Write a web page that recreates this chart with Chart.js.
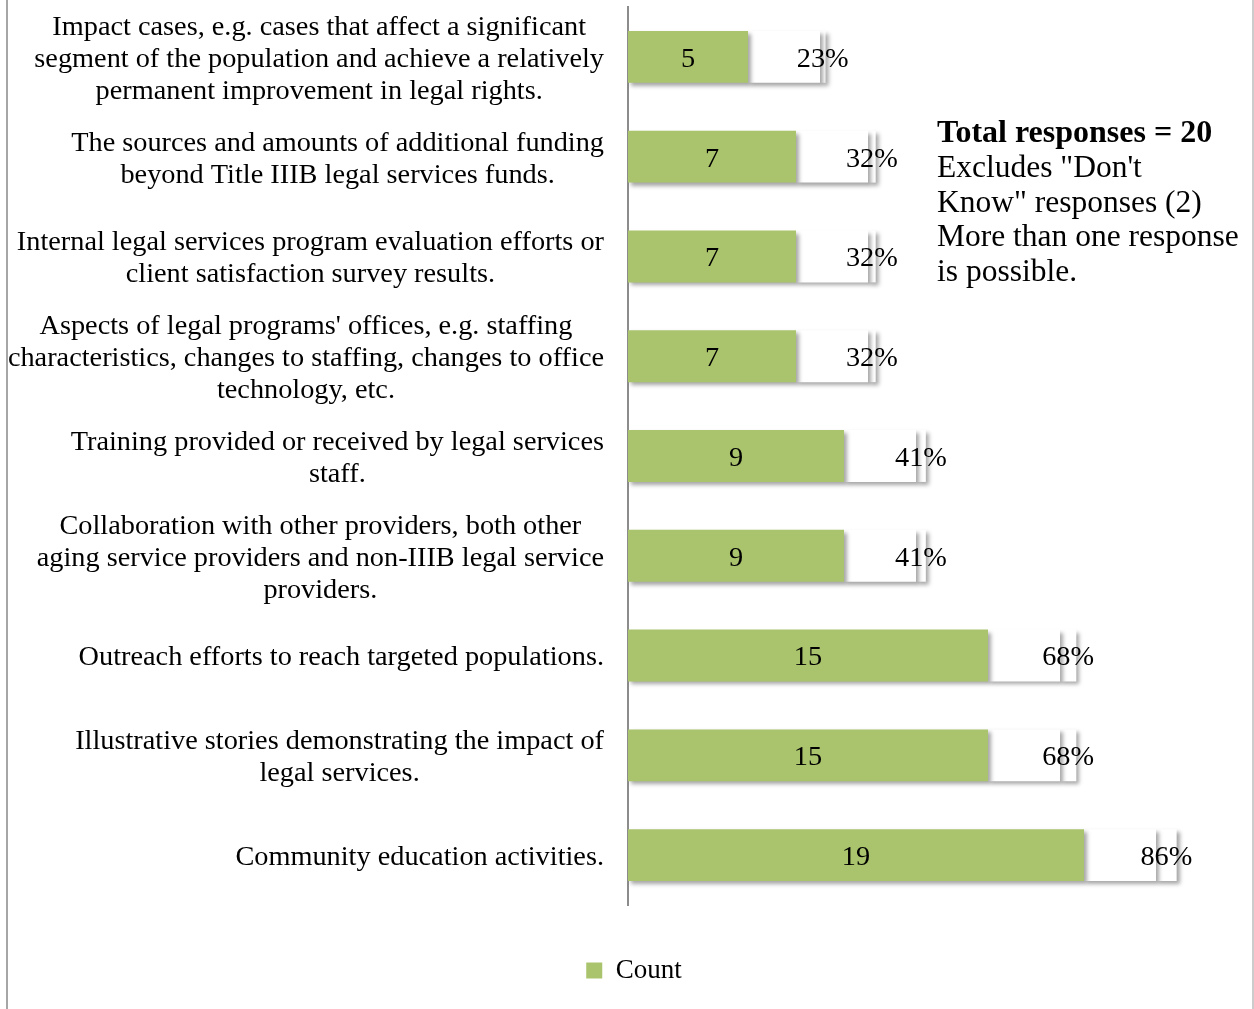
<!DOCTYPE html>
<html>
<head>
<meta charset="utf-8">
<script src="https://cdn.jsdelivr.net/npm/chart.js@4.4.1/dist/chart.umd.min.js"></script>
<style>
  html, body { margin: 0; padding: 0; background: #fff; }
  #wrap { width: 1254px; height: 1009px; position: relative; }
</style>
</head>
<body>
<div id="wrap"><canvas id="c" width="1254" height="1009"></canvas></div>
<script>
// Categories (multi-line labels)
const categories = [
  ["Impact cases, e.g. cases that affect a significant", "segment of the population and achieve a relatively", "permanent improvement in legal rights."],
  ["The sources and amounts of additional funding", "beyond Title IIIB legal services funds."],
  ["Internal legal services program evaluation efforts or", "client satisfaction survey results."],
  ["Aspects of legal programs' offices, e.g. staffing", "characteristics, changes to staffing, changes to office", "technology, etc."],
  ["Training provided or received by legal services", "staff."],
  ["Collaboration with other providers, both other", "aging service providers and non-IIIB legal service", "providers."],
  ["Outreach efforts to reach targeted populations."],
  ["Illustrative stories demonstrating the impact of", "legal services."],
  ["Community education activities."]
];

// Number of respondents per item
const counts = [5, 7, 7, 7, 9, 9, 15, 15, 19];
// White spacer between the count bar and the percentage segment
const spacer = [3, 3, 3, 3, 3, 3, 3, 3, 3];
// Share of respondents per item
const shares = [0.23, 0.32, 0.32, 0.32, 0.41, 0.41, 0.68, 0.68, 0.86];

// Side note
const noteTitle = "Total responses = 20";
const noteLines = ["Excludes \"Don't", "Know\" responses (2)", "More than one response", "is possible."];

const FONT = '"Liberation Serif", "DejaVu Serif", serif';
const LABEL_SIZE = 28.3;
const TEXT_SHIFT = 2.5; // optical nudge: serif glyphs sit high with a 'middle' baseline
const GREEN = '#A9C46C';

// Outer frame lines
const framePlugin = {
  id: 'frame',
  beforeDraw(chart) {
    const ctx = chart.ctx;
    ctx.save();
    ctx.fillStyle = '#fff';
    ctx.fillRect(0, 0, chart.width, chart.height);
    ctx.strokeStyle = '#a6a6a6';
    ctx.lineWidth = 2;
    ctx.beginPath(); ctx.moveTo(7, 0); ctx.lineTo(7, chart.height); ctx.stroke();
    ctx.strokeStyle = '#cccccc';
    ctx.beginPath(); ctx.moveTo(1253, 0); ctx.lineTo(1253, chart.height); ctx.stroke();
    ctx.restore();
  }
};

// Soft drop shadow under the bars
const shadowPlugin = {
  id: 'barShadow',
  beforeDatasetsDraw(chart) {
    const ctx = chart.ctx;
    ctx.save();
    ctx.shadowColor = 'rgba(0,0,0,0.35)';
    ctx.shadowBlur = 4;
    ctx.shadowOffsetX = 3;
    ctx.shadowOffsetY = 3;
  },
  afterDatasetsDraw(chart) {
    chart.ctx.restore();
  }
};

// Category labels: block right-aligned to the axis, lines centred within the block
const categoryLabels = {
  id: 'categoryLabels',
  afterDraw(chart) {
    const ctx = chart.ctx, y = chart.scales.y;
    ctx.save();
    ctx.font = LABEL_SIZE + 'px ' + FONT;
    ctx.fillStyle = '#000';
    ctx.textAlign = 'center';
    ctx.textBaseline = 'middle';
    const right = chart.chartArea.left - 24;
    chart.data.labels.forEach((lab, i) => {
      const lines = Array.isArray(lab) ? lab : [lab];
      const w = Math.max(...lines.map(l => ctx.measureText(l).width));
      const cx = right - w / 2;
      const cy = y.getPixelForValue(i) + TEXT_SHIFT;
      lines.forEach((l, k) => ctx.fillText(l, cx, cy + (k - (lines.length - 1) / 2) * 32));
    });
    ctx.restore();
  }
};

// Value labels inside the count bars and on the percentage segments
const valueLabels = {
  id: 'valueLabels',
  afterDraw(chart) {
    const ctx = chart.ctx;
    ctx.save();
    ctx.font = LABEL_SIZE + 'px ' + FONT;
    ctx.fillStyle = '#000';
    ctx.textAlign = 'center';
    ctx.textBaseline = 'middle';
    chart.getDatasetMeta(0).data.forEach((bar, i) => {
      ctx.fillText(String(counts[i]), (bar.x + bar.base) / 2, bar.y + TEXT_SHIFT);
    });
    chart.getDatasetMeta(2).data.forEach((bar, i) => {
      ctx.fillText(Math.round(shares[i] * 100) + '%', (bar.x + bar.base) / 2, bar.y + TEXT_SHIFT);
    });
    ctx.restore();
  }
};

// Side note text
const notePlugin = {
  id: 'note',
  afterDraw(chart) {
    const ctx = chart.ctx;
    ctx.save();
    ctx.fillStyle = '#000';
    ctx.textAlign = 'left';
    ctx.textBaseline = 'middle';
    ctx.font = 'bold 32px ' + FONT;
    ctx.fillText(noteTitle, 937, 134);
    ctx.font = '31.5px ' + FONT;
    noteLines.forEach((l, k) => ctx.fillText(l, 937, 169 + k * 34.5));
    ctx.restore();
  }
};

new Chart(document.getElementById('c'), {
  type: 'bar',
  data: {
    labels: categories,
    datasets: [
      { label: 'Count', data: counts, backgroundColor: GREEN, borderWidth: 0 },
      { label: 'gap', data: spacer, backgroundColor: '#ffffff', borderWidth: 0 },
      { label: 'Percent', data: shares, backgroundColor: '#ffffff', borderWidth: 0 }
    ]
  },
  options: {
    indexAxis: 'y',
    responsive: false,
    animation: false,
    devicePixelRatio: 1,
    barPercentage: 0.52,
    categoryPercentage: 1,
    layout: { padding: { top: 7, right: 26, left: 40, bottom: 15 } },
    scales: {
      x: {
        stacked: true, min: 0, max: 25,
        grid: { display: false }, border: { display: false },
        ticks: { display: false },
        afterFit(s) { s.height = 26; }
      },
      y: {
        stacked: true,
        grid: { display: false },
        border: { display: true, color: '#8c8c8c', width: 2 },
        ticks: { display: false },
        afterFit(s) { s.width = 588; }
      }
    },
    plugins: {
      tooltip: { enabled: false },
      legend: {
        position: 'bottom',
        labels: {
          filter: item => item.datasetIndex === 0,
          boxWidth: 16, boxHeight: 16, padding: 26,
          color: '#000',
          font: { family: FONT, size: 27 }
        }
      }
    }
  },
  plugins: [framePlugin, shadowPlugin, categoryLabels, valueLabels, notePlugin]
});
</script>
</body>
</html>
